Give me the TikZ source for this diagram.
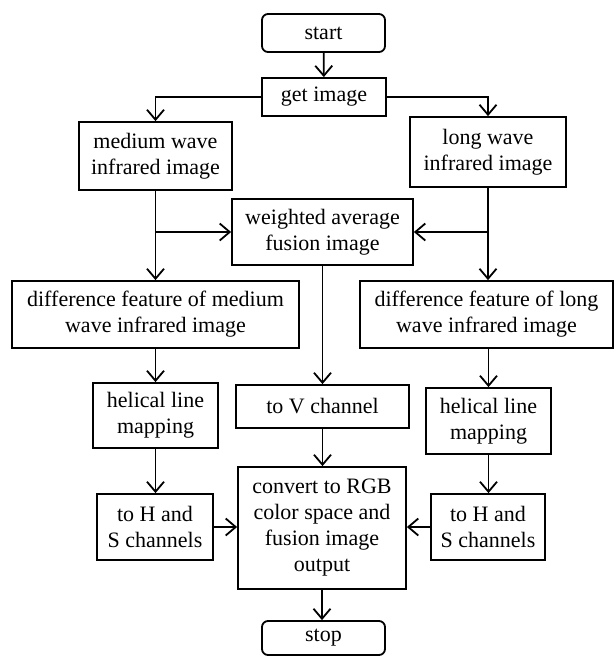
\documentclass[tikz,border=0pt]{standalone}
\usepackage{fontspec}
\setmainfont{Liberation Serif}
\usetikzlibrary{arrows.meta}
\begin{document}
\begin{tikzpicture}
[x=1pt,y=-1pt,line width=1.8pt,
every node/.style={draw,align=center,inner sep=0pt,font=\fontsize{22}{26}\selectfont},
box/.style={rectangle},
term/.style={rectangle,rounded corners=6pt},
arr/.style={-{Straight Barb[length=10pt,width=17pt]}}]
\useasboundingbox (0,0) rectangle (614,657);
\node[term,minimum width=123pt,minimum height=38pt] (start) at (323.5,33) {start};
\node[box,minimum width=124pt,minimum height=38pt] (get) at (324,97) {get image};
\node[box,minimum width=153pt,minimum height=68pt] (mwir) at (155.5,156) {medium wave\\infrared image};
\node[box,minimum width=156pt,minimum height=70pt] (lwir) at (488,152) {long wave\\infrared image};
\node[box,minimum width=181pt,minimum height=66pt] (fuse) at (322.5,232) {weighted average\\fusion image};
\node[box,minimum width=287pt,minimum height=67pt] (diffm) at (155.5,314.5) {difference feature of medium\\wave infrared image};
\node[box,minimum width=253pt,minimum height=67pt] (diffl) at (486.5,314.5) {difference feature of long\\wave infrared image};
\node[box,minimum width=125pt,minimum height=65pt] (helixm) at (155.5,415.5) {helical line\\mapping};
\node[box,minimum width=173pt,minimum height=43pt] (tov) at (322.5,406.5) {to V channel};
\node[box,minimum width=125pt,minimum height=66pt] (helixl) at (488.5,421) {helical line\\mapping};
\node[box,minimum width=116pt,minimum height=66pt] (tohsm) at (155,527) {to H and\\S channels};
\node[box,minimum width=168pt,minimum height=122pt] (rgb) at (322,528) {convert to RGB\\color space and\\fusion image\\output};
\node[box,minimum width=114pt,minimum height=66pt] (tohsl) at (488,527) {to H and\\S channels};
\node[term,minimum width=123pt,minimum height=34pt] (stop) at (323.5,638) {stop};
% top part
\draw[arr] (start) -- (get);
\draw[arr] (get.west) -| (mwir.north);
\draw[arr] (get.east) -| (lwir.north);
\draw[arr] (mwir) -- (diffm);
\draw[arr] (mwir.south |- fuse.west) -- (fuse.west);
\draw[arr] (lwir.south) -- (lwir.south |- diffl.north);
\draw[arr] (lwir.south |- fuse.east) -- (fuse.east);
% channels
\draw[arr] (fuse) -- (fuse.south |- tov.north);
\draw[arr] (diffm) -- (helixm);
\draw[arr] (helixl.north |- diffl.south) -- (helixl);
\draw[arr] (helixm) -- (helixm.south |- tohsm.north);
\draw[arr] (helixl) -- (helixl.south |- tohsl.north);
\draw[arr] (tov) -- (tov.south |- rgb.north);
\draw[arr] (tohsm.east) -- (tohsm.east -| rgb.west);
\draw[arr] (tohsl.west) -- (tohsl.west -| rgb.east);
\draw[arr] (rgb) -- (rgb.south |- stop.north);
\end{tikzpicture}
\end{document}
